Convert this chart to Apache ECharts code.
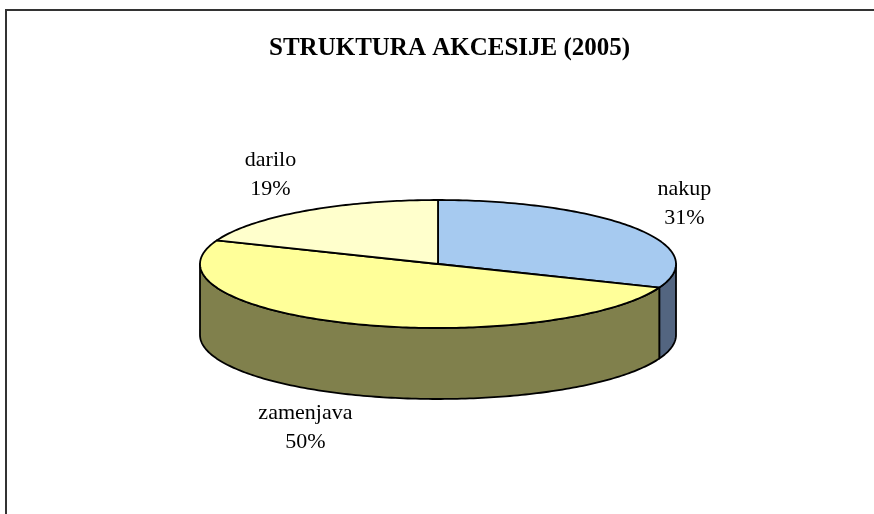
<!DOCTYPE html>
<html>
<head>
<meta charset="utf-8">
<script src="https://cdn.jsdelivr.net/npm/echarts@6/dist/echarts.min.js"></script>
<style>
html, body { margin: 0; padding: 0; background: #fff; overflow: hidden; }
#frame { position: absolute; left: 5px; top: 9px; width: 900px; height: 540px;
         border-left: 2px solid #333; border-top: 2px solid #333; }
#chart { position: absolute; left: 0; top: 0; width: 874px; height: 514px; }
</style>
</head>
<body>
<div id="frame"></div>
<div id="chart"></div>
<script>
// data
const categories = ['nakup', 'zamenjava', 'darilo'];
const shares = [31, 50, 19];

// colours (top face / wall)
const topColors = ['#A6CAF0', '#FFFF99', '#FFFFCC'];
const sideColors = ['#536580', '#80804C', '#808066'];

// layout of the tilted pie, pixels
const CX = 438, CY = 264, RX = 238, RY = 64, DEPTH = 71;

const total = shares.reduce((a, b) => a + b, 0);
const startAngle = shares.map((v, i) =>
    90 - 360 * shares.slice(0, i).reduce((a, b) => a + b, 0) / total);

const rad = d => d * Math.PI / 180;
const edge = (deg, dy = 0) =>
    [CX + RX * Math.cos(rad(deg)), CY - RY * Math.sin(rad(deg)) + dy];

// points along the rim, going clockwise from "from" to "to"
const arc = (from, to, dy) => {
    const pts = [];
    const steps = Math.max(2, Math.ceil(from - to));
    for (let k = 0; k <= steps; k++) {
        pts.push(edge(from - (from - to) * k / steps, dy));
    }
    return pts;
};

const lineStyle = { stroke: '#000', lineWidth: 1.8, lineJoin: 'round' };

const labelPos = (mid) => {
    const c = Math.cos(rad(mid)), s = Math.sin(rad(mid));
    if (s < 0) {
        // front: hang below the wall
        const [ex, ey] = edge(mid, DEPTH);
        return [ex + Math.sign(c) * 45, ey + 33];
    }
    // back: on a wider ellipse round the top face
    return [CX + (RX + 60) * c, CY - (RY + 44) * s];
};

const renderSlice = (params, api) => {
    const i = params.dataIndex;
    const v = api.value(0);
    const a0 = startAngle[i];
    const a1 = a0 - 360 * v / total;
    const children = [];

    // wall: only the front half of the rim is visible
    for (let k = -1; k <= 1; k++) {
        const lo = -180 + 360 * k, hi = 360 * k;
        const from = Math.min(a0, hi), to = Math.max(a1, lo);
        if (from > to) {
            const topEdge = arc(from, to, 0);
            const bottomEdge = arc(from, to, DEPTH).reverse();
            children.push({
                type: 'polygon',
                shape: { points: topEdge.concat(bottomEdge) },
                style: Object.assign({ fill: sideColors[i] }, lineStyle)
            });
        }
    }

    // top face
    children.push({
        type: 'polygon',
        shape: { points: [[CX, CY]].concat(arc(a0, a1, 0)) },
        style: Object.assign({ fill: topColors[i] }, lineStyle)
    });

    const [lx, ly] = labelPos((a0 + a1) / 2);
    children.push({
        type: 'text',
        x: lx,
        y: ly,
        style: {
            text: categories[i] + '\n' + Math.round(v / total * 100) + '%',
            fill: '#000',
            fontFamily: 'Liberation Serif',
            fontSize: 22,
            lineHeight: 29,
            align: 'center',
            verticalAlign: 'middle'
        }
    });

    return { type: 'group', children: children };
};

const chart = echarts.init(document.getElementById('chart'));
chart.setOption({
    animation: false,
    backgroundColor: 'transparent',
    title: {
        text: 'STRUKTURA AKCESIJE (2005)',
        left: 264,
        top: 31,
        textStyle: {
            fontFamily: 'Liberation Serif',
            fontWeight: 'bold',
            fontSize: 25,
            color: '#000'
        }
    },
    series: [{
        type: 'custom',
        coordinateSystem: 'none',
        silent: true,
        renderItem: renderSlice,
        data: shares
    }]
});
</script>
</body>
</html>
